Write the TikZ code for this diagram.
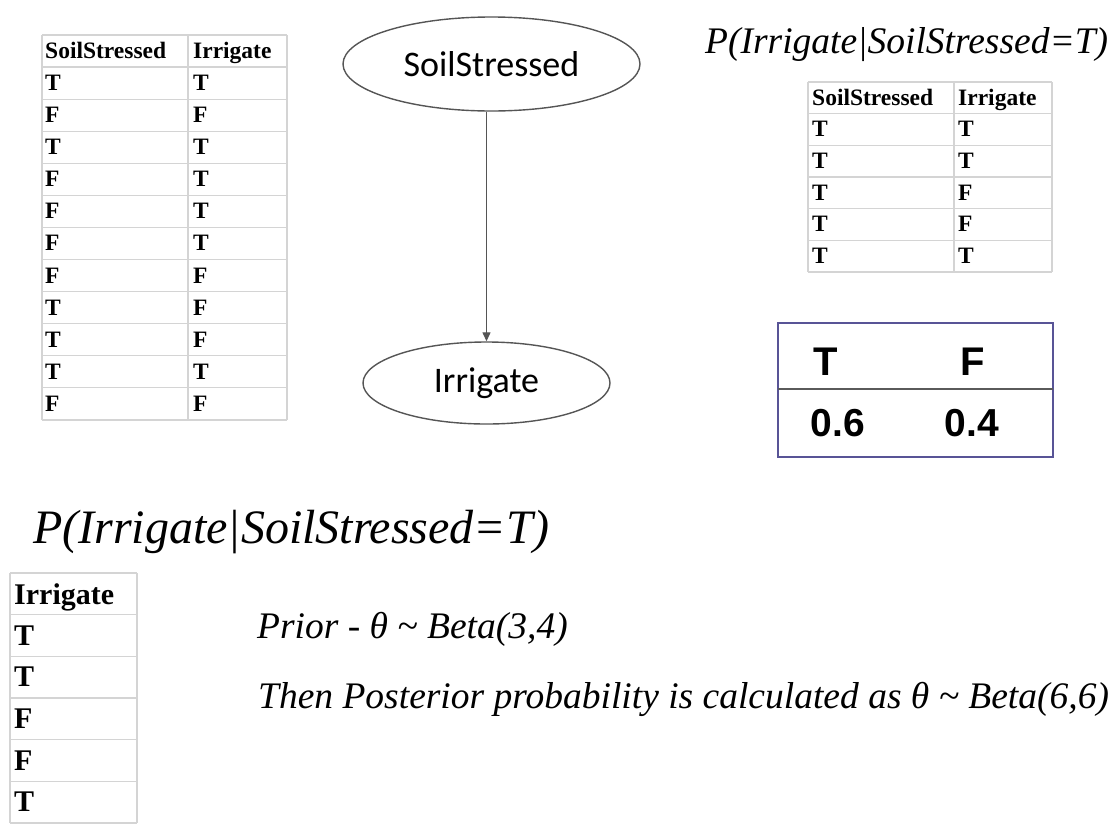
\documentclass[tikz,border=0pt]{standalone}
\usepackage{fontspec}
\setmainfont{Liberation Serif}
\newfontfamily\arialf{Liberation Sans}
\newfontfamily\calf{Carlito}
\usetikzlibrary{arrows.meta,shapes.geometric}
\definecolor{gridc}{RGB}{212,212,212}
\definecolor{boxc}{RGB}{88,84,150}
\definecolor{ellc}{RGB}{85,85,85}
\definecolor{divc}{RGB}{90,90,90}
\begin{document}
\begin{tikzpicture}[x=1pt,y=-1pt,
  cell/.style={anchor=base west, inner sep=0pt, font=\fontsize{23.5}{23.5}\selectfont\bfseries},
  bigcell/.style={anchor=base west, inner sep=0pt, font=\fontsize{30}{30}\selectfont\bfseries},
  grid/.style={draw=gridc, line width=1.2},
  formula/.style={anchor=base west, inner sep=0pt, font=\fontsize{37.5}{37.5}\selectfont\itshape},
  bigformula/.style={anchor=base west, inner sep=0pt, font=\fontsize{48}{48}\selectfont\itshape},
  tf/.style={anchor=base, inner sep=0pt, font=\arialf\fontsize{40}{40}\selectfont\bfseries},
  num/.style={anchor=base, inner sep=0pt, font=\arialf\fontsize{39}{39}\selectfont\bfseries},
  var/.style={ellipse, draw=ellc, line width=1.4, inner sep=0pt, font=\calf\fontsize{36}{36}\selectfont},
  link/.style={draw=ellc, line width=1.3, -{Triangle[length=9pt,width=8pt]}}
]
\useasboundingbox (0,0) rectangle (1118,825);
\fill[white] (0,0) rectangle (1118,825);

% ---------- Table 1 ----------
\foreach \i in {0,...,12} \draw[grid] (42,{35+\i*32.08}) -- (287,{35+\i*32.08});
\draw[grid] (42,35) -- (42,420) (188,35) -- (188,420) (287,35) -- (287,420);
\node[cell] (t1h1) at (45,58.5) {SoilStressed};
\node[cell] (t1h2) at (193,58.5) {Irrigate};
\foreach \a/\b [count=\i] in {T/T,F/F,T/T,F/T,F/T,F/T,F/F,T/F,T/F,T/T,F/F}{
  \node[cell] (t1a\i) at (45,{35+\i*32.08+23.5}) {\a};
  \node[cell] (t1b\i) at (193,{35+\i*32.08+23.5}) {\b};
}

% ---------- Top-right title ----------
\node[formula] (title1) at (705,53) {P(Irrigate|SoilStressed=T)};

% ---------- Table 2 ----------
\foreach \i in {0,...,6} \draw[grid] (808,{82+\i*31.67}) -- (1052,{82+\i*31.67});
\draw[grid] (808,82) -- (808,272) (954,82) -- (954,272) (1052,82) -- (1052,272);
\node[cell] (t2h1) at (812,105) {SoilStressed};
\node[cell] (t2h2) at (958,105) {Irrigate};
\foreach \a/\b [count=\i] in {T/T,T/T,T/F,T/F,T/T}{
  \node[cell] (t2a\i) at (812,{82+\i*31.67+23}) {\a};
  \node[cell] (t2b\i) at (958,{82+\i*31.67+23}) {\b};
}

% ---------- T/F box ----------
\draw[boxc, line width=1.8] (778,323) rectangle (1053,457);
\draw[divc, line width=1.2] (778,389) -- (1053,389);
\node[tf] (bt) at (826,375) {T};
\node[tf] (bf) at (973,375) {F};
\node[num] (b06) at (838,436) {0.6};
\node[num] (b04) at (972,436) {0.4};

% ---------- Network ----------
\node[var, minimum width=297pt, minimum height=94pt] (ss) at (491.5,64) {SoilStressed};
\node[var, minimum width=247pt, minimum height=82pt] (ir) at (486.5,383) {Irrigate};
\draw[link] (ir.north |- ss.south) -- (ir.north);

% ---------- Bottom title ----------
\node[bigformula] (title2) at (33,543) {P(Irrigate|SoilStressed=T)};

% ---------- Table 3 ----------
\foreach \i in {0,...,6} \draw[grid] (10,{573+\i*41.67}) -- (137,{573+\i*41.67});
\draw[grid] (10,573) -- (10,823) (137,573) -- (137,823);
\node[bigcell] (t3h) at (14,604) {Irrigate};
\foreach \a [count=\i] in {T,T,F,F,T}{
  \node[bigcell] (t3a\i) at (14,{573+\i*41.67+30.5}) {\a};
}

% ---------- Prior / Posterior ----------
\node[formula] (prior) at (257,638) {Prior - θ \textasciitilde{} Beta(3,4)};
\node[formula] (post) at (258,708) {Then Posterior probability is calculated as θ \textasciitilde{} Beta(6,6)};
\end{tikzpicture}
\end{document}
